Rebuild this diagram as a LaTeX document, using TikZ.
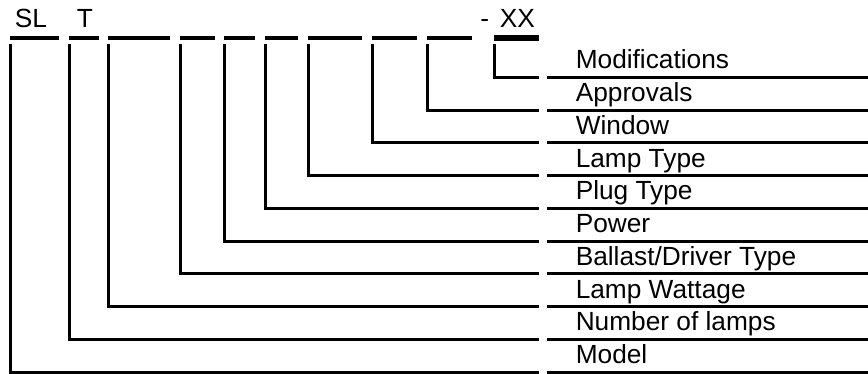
\documentclass[tikz,border=0pt]{standalone}
\usepackage{fontspec}
\setmainfont{Liberation Sans}
\usetikzlibrary{positioning}
\tikzset{
  bar/.style={line width=2.3pt},
  xxbar/.style={line width=4.4pt},
  lead/.style={line width=2.3pt,line join=miter},
  code/.style={anchor=base west,inner sep=0pt,font=\fontsize{19.7}{23}\selectfont},
  lbl/.style={anchor=base west,inner sep=0pt,font=\fontsize{19.7}{23}\selectfont}
}
\begin{document}
\begin{tikzpicture}[x=0.75pt,y=-0.75pt]
\useasboundingbox (0,0) rectangle (868,374);
% type code
\node[code] (sl) at (14.5,27.5) {SL};
\node[code] (t) at (76.5,27.5) {T};
\node[code] (dash) at (480,27.5) {-};
\node[code] (xx) at (499.5,27.5) {XX};
% code fields
\foreach \n/\a/\b in {f9/10/59,f8/69/99,f7/108/170,f6/180/215,f5/224/255,
  f4/265/298,f3/308/362,f2/372/417,f1/427/472}{
  \draw[bar] (\a,38)--(\b,38);
  \coordinate (\n) at (\a+0.5,44);
}
\draw[xxbar] (494,38)--(539,38);
\coordinate (f0) at (494.5,44);
% field names
\foreach \k/\txt in {0/Modifications,1/Approvals,2/Window,3/Lamp Type,4/Plug Type,
  5/Power,6/{Ballast/Driver Type},7/Lamp Wattage,8/Number of lamps,9/Model}{
  \coordinate (e\k) at (538.5,{77.3+32.75*\k});
  \coordinate (u\k) at (547,{77.3+32.75*\k});
  \node[lbl] (l\k) at (575.5,{77.3+32.75*\k-8.5}) {\txt};
  \draw[bar] (u\k)--(u\k -| 868,0);
  \draw[lead] (f\k) |- (e\k);
}
\end{tikzpicture}
\end{document}
